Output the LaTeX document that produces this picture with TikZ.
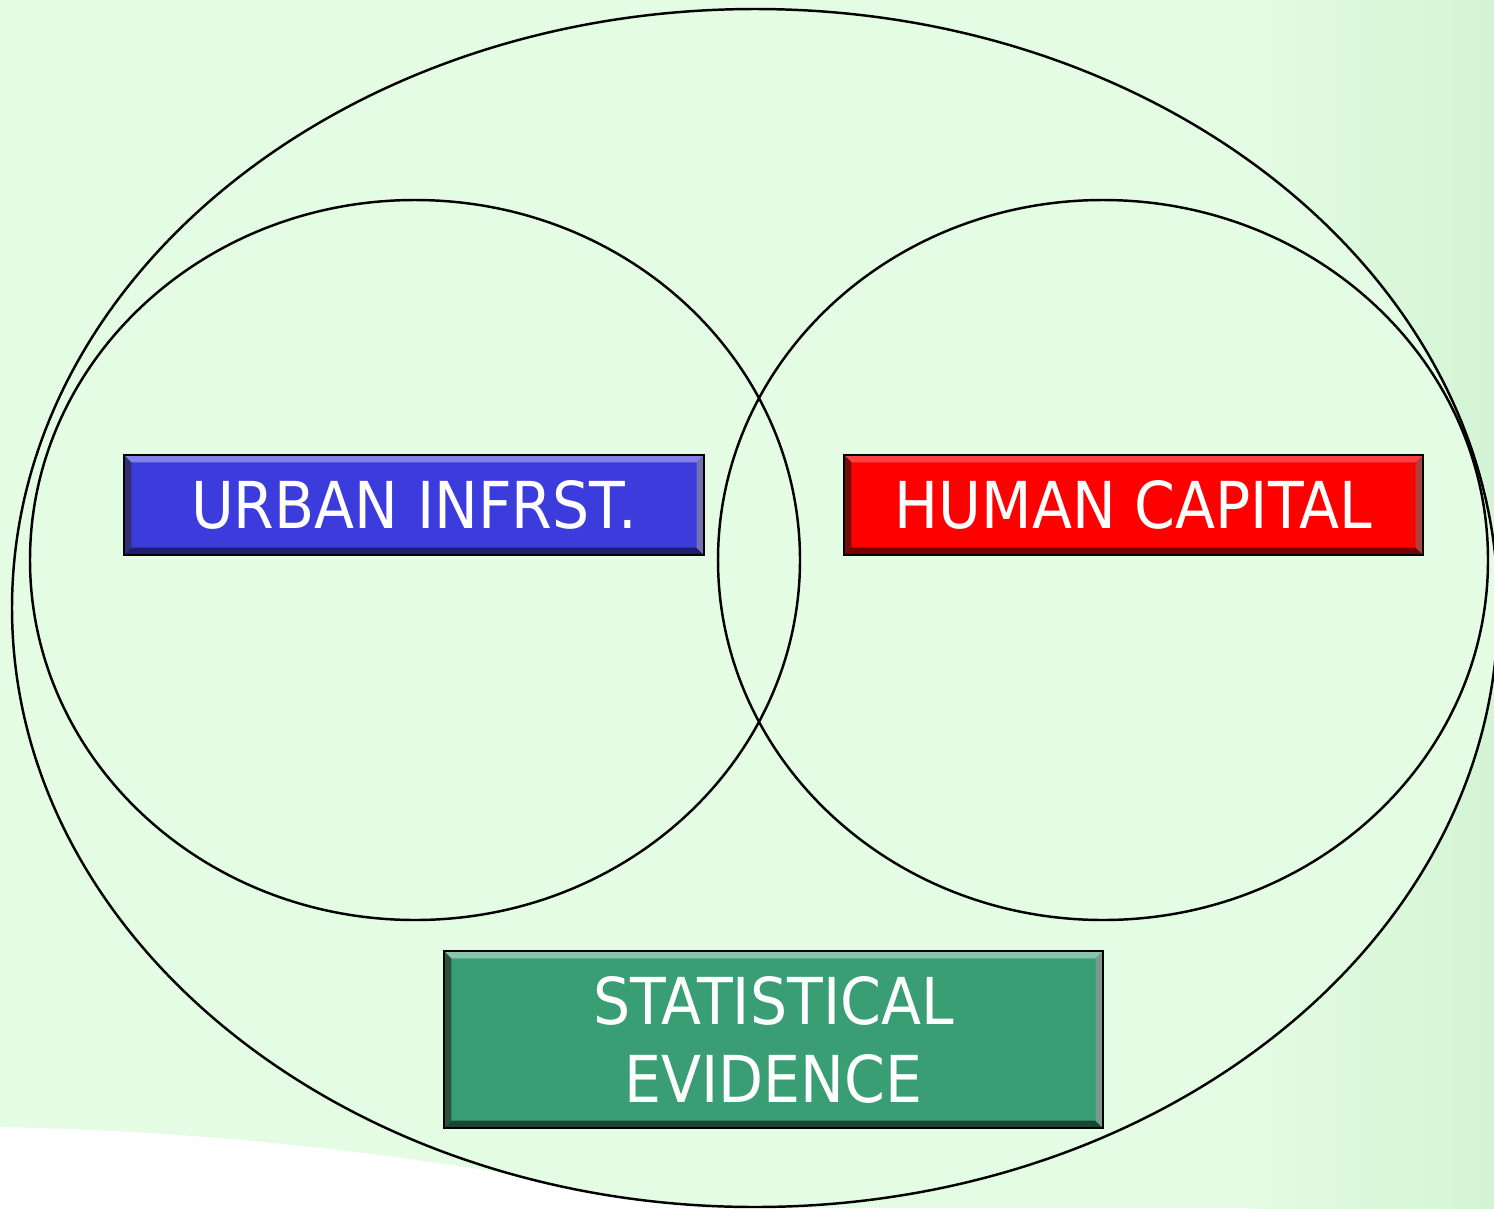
\documentclass[tikz,border=0pt]{standalone}
\usepackage{fontspec}
\setmainfont{DejaVu Sans}[FakeStretch=0.905]
\usetikzlibrary{calc}
\definecolor{bg}{RGB}{227,252,227}
\definecolor{bgdark}{RGB}{212,244,212}
\definecolor{ublue}{RGB}{60,60,220}
\definecolor{ured}{RGB}{255,0,0}
\definecolor{ugreen}{RGB}{58,158,116}
\tikzset{
  labelbox/.style={rectangle, inner sep=0pt, text=white,
    font=\fontsize{18.4pt}{22.2pt}\selectfont, align=center},
  ring/.style={draw=black, line width=0.7pt},
}
\newcommand{\bevelbox}[3]{%
  \fill[#2] (#1.north west) -- (#1.north east) -- ($(#1.north east)+(-7,7)$) -- ($(#1.north west)+(7,7)$) -- cycle;
  \fill[#2!50!#3] (#1.north west) -- (#1.south west) -- ($(#1.south west)+(7,-7)$) -- ($(#1.north west)+(7,7)$) -- cycle;
  \fill[#3] (#1.south west) -- (#1.south east) -- ($(#1.south east)+(-7,-7)$) -- ($(#1.south west)+(7,-7)$) -- cycle;
  \fill[#3!80!#2] (#1.north east) -- (#1.south east) -- ($(#1.south east)+(-7,-7)$) -- ($(#1.north east)+(-7,7)$) -- cycle;
  \draw[black, line width=0.6pt] (#1.north west) rectangle (#1.south east);
}
\begin{document}
\begin{tikzpicture}[x=0.1mm, y=-0.1mm]
\useasboundingbox (0,0) rectangle (1494,1208);
\fill[bg] (0,0) rectangle (1494,1208);
\shade[left color=bg, right color=bgdark] (1250,0) rectangle (1494,1208);
\fill[white] (0,1127) .. controls (250,1132) and (450,1160) .. (700,1208) -- (0,1208) -- cycle;
% outer ellipse
\path[fill=bg] (755,608) ellipse [x radius=74.3mm, y radius=59.9mm];
\draw[ring] (755,608) ellipse [x radius=74.3mm, y radius=59.9mm];
\draw[ring] (415,560) ellipse [x radius=38.5mm, y radius=36mm];
\draw[ring] (1103,560) ellipse [x radius=38.5mm, y radius=36mm];
% boxes
\node[labelbox, fill=ublue, minimum width=57.8mm, minimum height=9.8mm] (urban) at (414,505) {\phantom{X}};
\bevelbox{urban}{ublue!65!white}{ublue!50!black}
\node[labelbox] (urbant) at (urban) {URBAN INFRST.};
\node[labelbox, fill=ured, minimum width=57.7mm, minimum height=9.8mm] (human) at (1133.5,505) {\phantom{X}};
\bevelbox{human}{ured!75!white}{ured!45!black}
\node[labelbox] (humant) at (human) {HUMAN CAPITAL};
\node[labelbox, fill=ugreen, minimum width=65.7mm, minimum height=17.5mm] (stat) at (773.5,1039.5) {\phantom{X}};
\bevelbox{stat}{ugreen!60!white}{ugreen!45!black}
\node[labelbox] (statt) at (stat) {STATISTICAL\\EVIDENCE};
\end{tikzpicture}
\end{document}
